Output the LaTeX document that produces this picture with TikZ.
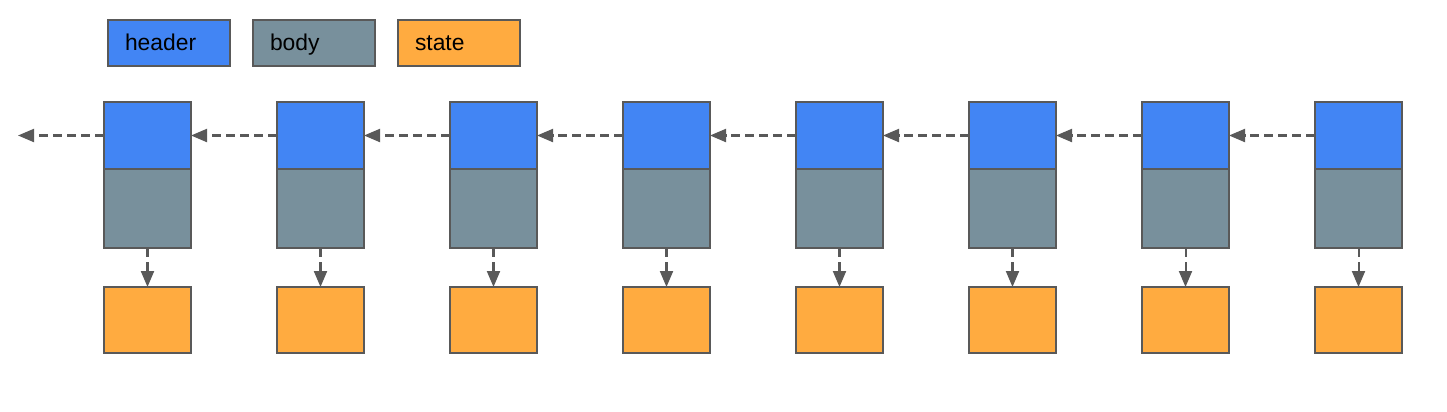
\documentclass[tikz,border=0pt]{standalone}
\usepackage{fontspec}
\setmainfont{Liberation Sans}
\usetikzlibrary{positioning,arrows.meta}
\definecolor{headerblue}{HTML}{4285F4}
\definecolor{bodygray}{HTML}{78909C}
\definecolor{stateorange}{HTML}{FFAB40}
\definecolor{edgegray}{HTML}{595959}
\begin{document}
\begin{tikzpicture}[
    box/.style={rectangle, draw=edgegray, line width=0.8pt, outer sep=0pt,
        minimum width=1.74cm, inner sep=0pt},
    header/.style={box, fill=headerblue, minimum height=1.34cm},
    body/.style={box, fill=bodygray, minimum height=1.58cm},
    state/.style={box, fill=stateorange, minimum height=1.32cm},
    legend/.style={box, minimum width=2.44cm, minimum height=0.92cm,
        text width=2.44cm, text height=2ex, text depth=0.3ex, align=left,
        font=\fontsize{13}{15}\selectfont},
    link/.style={draw=edgegray, line width=1.15pt, dash pattern=on 5pt off 3pt,
        -{Triangle[length=0.32cm, width=0.26cm]}},
    node distance=1.72cm
]
\useasboundingbox (0,0) rectangle (28.94,-8.22);
% legend
\node (LegHeader) [legend, fill=headerblue] at (3.38,-0.86) {\hspace{0.34cm}header};
\node (LegBody) [legend, fill=bodygray, right=0.46cm of LegHeader] {\hspace{0.34cm}body};
\node (LegState) [legend, fill=stateorange, right=0.46cm of LegBody] {\hspace{0.34cm}state};
% headers
\node (Header1) [header] at (2.95,-2.71) {};
\node (Header2) [header, right=of Header1] {};
\node (Header3) [header, right=of Header2] {};
\node (Header4) [header, right=of Header3] {};
\node (Header5) [header, right=of Header4] {};
\node (Header6) [header, right=of Header5] {};
\node (Header7) [header, right=of Header6] {};
\node (Header8) [header, right=of Header7] {};
% bodies
\node (Body1) [body, below=0pt of Header1] {};
\node (Body2) [body, below=0pt of Header2] {};
\node (Body3) [body, below=0pt of Header3] {};
\node (Body4) [body, below=0pt of Header4] {};
\node (Body5) [body, below=0pt of Header5] {};
\node (Body6) [body, below=0pt of Header6] {};
\node (Body7) [body, below=0pt of Header7] {};
\node (Body8) [body, below=0pt of Header8] {};
% states
\node (State1) [state, below=0.78cm of Body1] {};
\node (State2) [state, below=0.78cm of Body2] {};
\node (State3) [state, below=0.78cm of Body3] {};
\node (State4) [state, below=0.78cm of Body4] {};
\node (State5) [state, below=0.78cm of Body5] {};
\node (State6) [state, below=0.78cm of Body6] {};
\node (State7) [state, below=0.78cm of Body7] {};
\node (State8) [state, below=0.78cm of Body8] {};
\coordinate (Tail) at (0.36,-2.71);
% links between headers
\draw [link] (Header1.west) -- (Tail);
\draw [link] (Header2.west) -- (Header1.east);
\draw [link] (Header3.west) -- (Header2.east);
\draw [link] (Header4.west) -- (Header3.east);
\draw [link] (Header5.west) -- (Header4.east);
\draw [link] (Header6.west) -- (Header5.east);
\draw [link] (Header7.west) -- (Header6.east);
\draw [link] (Header8.west) -- (Header7.east);
% links from body to state
\draw [link] (Body1.south) -- (State1.north);
\draw [link] (Body2.south) -- (State2.north);
\draw [link] (Body3.south) -- (State3.north);
\draw [link] (Body4.south) -- (State4.north);
\draw [link] (Body5.south) -- (State5.north);
\draw [link] (Body6.south) -- (State6.north);
\draw [link] (Body7.south) -- (State7.north);
\draw [link] (Body8.south) -- (State8.north);
\end{tikzpicture}
\end{document}
